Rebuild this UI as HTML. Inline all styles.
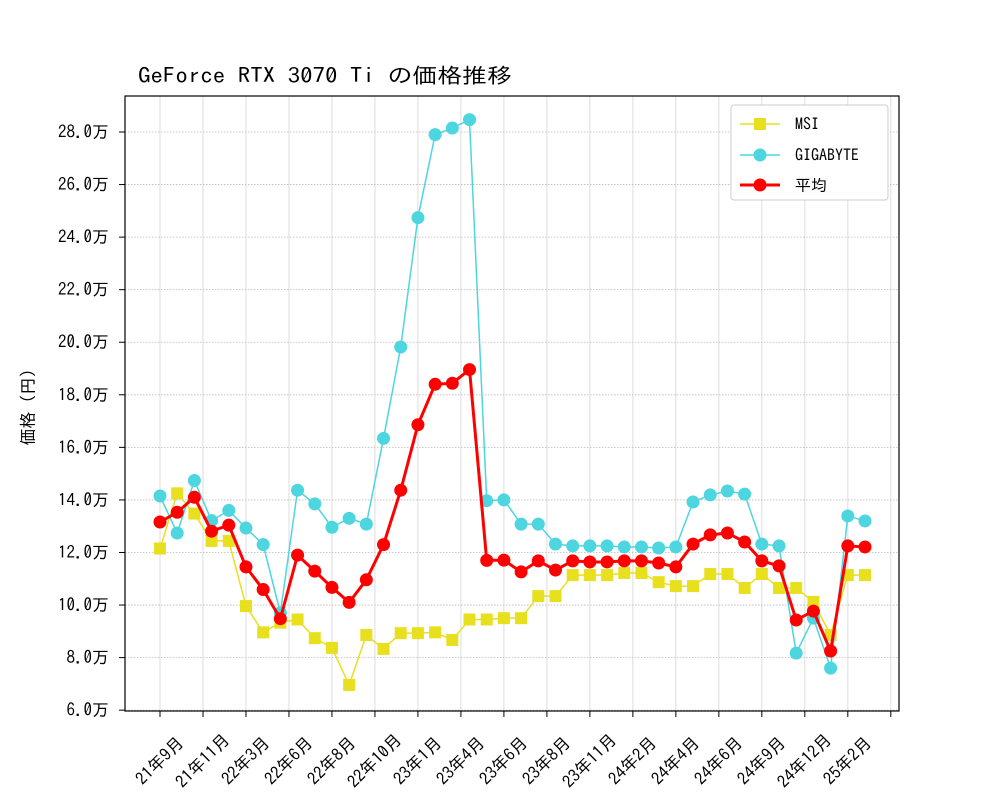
<!DOCTYPE html>
<html><head><meta charset="utf-8"><style>
body{margin:0;background:#fff;}
svg text{font-family:"IPAGothic","Liberation Mono","Noto Sans CJK JP",monospace;fill:#000;}
</style></head><body>
<svg id="chart" width="1000" height="800" xmlns="http://www.w3.org/2000/svg">
<rect width="1000" height="800" fill="#fff"/>
<text x="138" y="83" font-size="21" textLength="374" lengthAdjust="spacingAndGlyphs">GeForce RTX 3070 Ti の価格推移</text>
<text transform="translate(34,403) rotate(-90)" text-anchor="middle" font-size="17">価格（円）</text>
<g id="grid"></g>
<g id="axes"></g>
<g id="series"></g>
<g>
<rect x="731" y="105" width="157" height="95" fill="#fff" stroke="#ccc" rx="3"/>
<g><line x1="740" y1="124" x2="780" y2="124" stroke="#e8e01e" stroke-width="1.5"/><rect x="754" y="118" width="12" height="12" fill="#e8e01e"/><text x="795" y="130" font-size="16">MSI</text></g>
<g><line x1="740" y1="155" x2="780" y2="155" stroke="#4dd5e0" stroke-width="1.5"/><circle cx="760" cy="155" r="6.5" fill="#4dd5e0"/><text x="795" y="161" font-size="16">GIGABYTE</text></g>
<g><line x1="740" y1="185" x2="780" y2="185" stroke="#ff0000" stroke-width="3"/><circle cx="760" cy="185" r="6.5" fill="#ff0000"/><text x="795" y="191" font-size="16">平均</text></g>
</g>
</svg>
<script>
const msi=[12.15,14.25,13.48,12.44,12.44,9.96,8.96,9.33,9.45,8.74,8.37,6.96,8.86,8.33,8.93,8.93,8.96,8.67,9.45,9.45,9.5,9.5,10.34,10.34,11.14,11.14,11.14,11.22,11.22,10.87,10.72,10.72,11.18,11.18,10.65,11.18,10.65,10.65,10.12,8.86,11.14,11.14];
const gigabyte=[14.15,12.74,14.74,13.21,13.6,12.93,12.3,9.7,14.37,13.85,12.96,13.3,13.08,16.34,19.82,24.74,27.9,28.15,28.47,13.97,14.0,13.08,13.08,12.32,12.25,12.25,12.25,12.21,12.21,12.17,12.21,13.92,14.19,14.34,14.22,12.32,12.25,8.17,9.5,7.6,13.39,13.2];
const average=[13.16,13.53,14.1,12.81,13.04,11.45,10.59,9.48,11.9,11.29,10.67,10.1,10.96,12.3,14.37,16.86,18.4,18.44,18.96,11.7,11.71,11.26,11.68,11.33,11.68,11.64,11.64,11.68,11.68,11.6,11.45,12.32,12.67,12.74,12.4,11.68,11.49,9.43,9.77,8.25,12.25,12.21];
const xLabels=["21年9月","21年11月","22年3月","22年6月","22年8月","22年10月","23年1月","23年4月","23年6月","23年8月","23年11月","24年2月","24年4月","24年6月","24年9月","24年12月","25年2月",""];
const yTicks=[6,8,10,12,14,16,18,20,22,24,26,28];
</script>
<script>
const NS="http://www.w3.org/2000/svg";
const L=125,R=899,T=96,B=711;
const n=msi.length;
const X=i=>160+i*(705/(n-1));
const Y=v=>132+(28-v)*26.28;
function mk(tag,attrs,parent){const e=document.createElementNS(NS,tag);for(const k in attrs)e.setAttribute(k,attrs[k]);parent.appendChild(e);return e;}
const grid=document.getElementById('grid'),axes=document.getElementById('axes'),series=document.getElementById('series');
const step=(X(1)-X(0))*2.5;
xLabels.forEach((lab,k)=>{
  const x=X(0)+k*step;
  const g=mk('line',{x1:x,x2:x,y1:T,y2:B,stroke:'#ddd','stroke-width':1},grid);
  
  
  const t=mk('line',{x1:x,x2:x,y1:B,y2:B+6,stroke:'#000'},axes);
  
  
  if(lab){const tx=mk('text',{transform:`translate(${x},${B+50}) rotate(-45)`,'text-anchor':'middle','dominant-baseline':'central','font-size':17},axes);tx.textContent=lab;
  
  }
});
yTicks.forEach(v=>{
  const y=Y(v);
  const g=mk('line',{x1:L,x2:R,y1:y,y2:y,stroke:'#bbb','stroke-width':0.8,'stroke-dasharray':'1.5,1.5'},grid);
  
  
  const t=mk('line',{x1:L-6,x2:L,y1:y,y2:y,stroke:'#000'},axes);
  
  
  const tx=mk('text',{x:L-16,y:y+6,'text-anchor':'end','font-size':17},axes);tx.textContent=v.toFixed(1)+'万';
  
  
});
const fr=mk('rect',{x:L,y:T,width:R-L,height:B-T,fill:'none',stroke:'#000','stroke-width':1.2},axes);


function draw(data,color,w,shape,name,r){
  const p=mk('polyline',{points:data.map((v,i)=>X(i)+','+Y(v)).join(' '),fill:'none',stroke:color,'stroke-width':w},series);
  
  
  data.forEach((v,i)=>{
    let m;
    if(shape==='sq')m=mk('rect',{x:X(i)-6,y:Y(v)-6,width:12,height:12,fill:color},series);
    else m=mk('circle',{cx:X(i),cy:Y(v),r:r,fill:color},series);
    
    
  });
}
draw(msi,'#e8e01e',1.5,'sq','msi');
draw(gigabyte,'#4dd5e0',1.5,'c','gigabyte',6.5);
draw(average,'#ff0000',3,'c','average',6.5);
</script>
</body></html>
